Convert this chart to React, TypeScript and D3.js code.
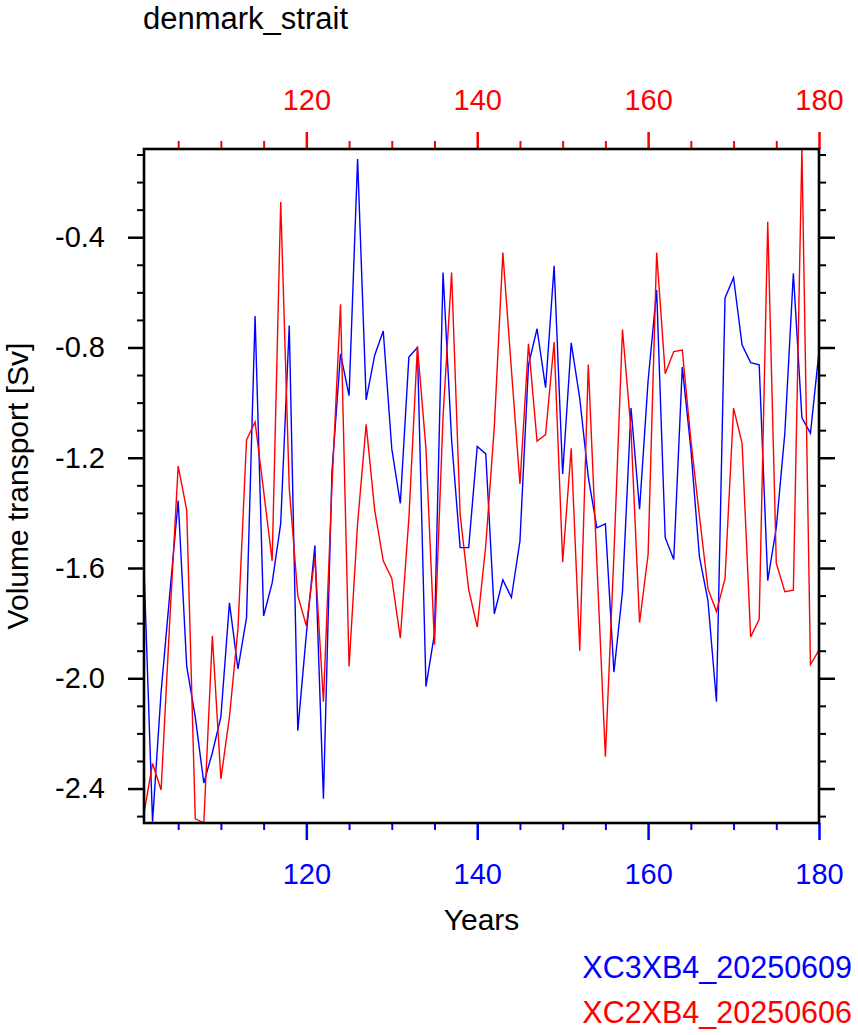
import React, { useRef, useEffect } from "react";
import * as d3 from "d3";

// years shared by both runs
const years = d3.range(101, 181);

// XC3XB4_20250609 (blue, bottom axis)
const blueValues = [
  -1.6, -2.52, -2.05, -1.7, -1.355, -1.957, -2.14, -2.38, -2.27, -2.14,
  -1.726, -1.966, -1.78, -0.686, -1.774, -1.654, -1.438, -0.72, -2.19, -1.84,
  -1.518, -2.437, -1.25, -0.823, -0.975, -0.116, -0.99, -0.828, -0.74, -1.167,
  -1.366, -0.835, -0.8, -2.03, -1.838, -0.528, -1.135, -1.526, -1.526, -1.159,
  -1.186, -1.766, -1.643, -1.707, -1.502, -0.863, -0.732, -0.946, -0.504, -1.259,
  -0.783, -0.985, -1.27, -1.454, -1.44, -1.978, -1.686, -1.02, -1.387, -0.92,
  -0.592, -1.49, -1.569, -0.871, -1.167, -1.558, -1.718, -2.085, -0.62, -0.547,
  -0.791, -0.855, -0.863, -1.646, -1.454, -1.111, -0.531, -1.055, -1.111, -0.815,
];

// XC2XB4_20250606 (red, top axis)
const redValues = [
  -2.49, -2.309, -2.405, -1.8, -1.23, -1.39, -2.51, -2.525, -1.846, -2.365,
  -2.14, -1.82, -1.135, -1.07, -1.32, -1.574, -0.272, -1.31, -1.7, -1.81,
  -1.56, -2.085, -1.3, -0.643, -1.957, -1.438, -1.079, -1.39, -1.574, -1.638,
  -1.854, -1.42, -0.796, -1.167, -1.878, -1.05, -0.528, -1.406, -1.678, -1.814,
  -1.518, -1.087, -0.456, -0.88, -1.295, -0.787, -1.14, -1.116, -0.78, -1.579,
  -1.166, -1.9, -0.862, -1.58, -2.285, -1.55, -0.735, -1.1, -1.798, -1.55,
  -0.456, -0.895, -0.815, -0.809, -1.135, -1.41, -1.675, -1.758, -1.638, -1.02,
  -1.148, -1.85, -1.786, -0.344, -1.582, -1.686, -1.68, -0.08, -1.95, -1.898,
];

const xMajorTicks = [120, 140, 160, 180];
const xMinorTicks = d3.range(105, 181, 5).filter((d) => d % 20 !== 0);
const yMajorTicks = [-0.4, -0.8, -1.2, -1.6, -2.0, -2.4];
const yMinorTicks = d3.range(-25, 0).map((d) => d / 10).filter((d) => Math.round(d * 10) % 4 !== 0);

const FONT = "'Liberation Sans', Arial, Helvetica, sans-serif";

const App = () => {
  const ref = useRef(null);

  useEffect(() => {
    const svg = d3.select(ref.current);
    svg.selectAll("*").remove();

    const left = 144,
      right = 819,
      top = 149,
      bottom = 823;

    const x = d3.scaleLinear().domain([101, 180]).range([left, right]);
    const all = blueValues.concat(redValues);
    const y = d3
      .scaleLinear()
      .domain([d3.min(all), d3.max(all)])
      .range([bottom, top]);

    const styleAxis = (g, color, width) => {
      g.select(".domain").remove();
      g.selectAll("line").attr("stroke", color).attr("stroke-width", width);
      g.selectAll("text")
        .attr("fill", color)
        .style("font-family", FONT)
        .style("font-size", "29px");
    };

    // bottom axis (blue)
    svg
      .append("g")
      .attr("transform", `translate(0,${bottom})`)
      .call(d3.axisBottom(x).tickValues(xMinorTicks).tickSize(7).tickFormat(() => ""))
      .call((g) => styleAxis(g, "#0000ff", 2));
    svg
      .append("g")
      .attr("transform", `translate(0,${bottom})`)
      .call(d3.axisBottom(x).tickValues(xMajorTicks).tickSize(17).tickPadding(23).tickFormat(d3.format("d")))
      .call((g) => styleAxis(g, "#0000ff", 2.5));

    // top axis (red)
    svg
      .append("g")
      .attr("transform", `translate(0,${top})`)
      .call(d3.axisTop(x).tickValues(xMinorTicks).tickSize(8).tickFormat(() => ""))
      .call((g) => styleAxis(g, "#ff0000", 2));
    svg
      .append("g")
      .attr("transform", `translate(0,${top})`)
      .call(d3.axisTop(x).tickValues(xMajorTicks).tickSize(17).tickPadding(22).tickFormat(d3.format("d")))
      .call((g) => styleAxis(g, "#ff0000", 2.5));

    // left / right axes
    svg
      .append("g")
      .attr("transform", `translate(${left},0)`)
      .call(d3.axisLeft(y).tickValues(yMinorTicks).tickSize(7).tickFormat(() => ""))
      .call((g) => styleAxis(g, "#000", 2));
    svg
      .append("g")
      .attr("transform", `translate(${left},0)`)
      .call(
        d3
          .axisLeft(y)
          .tickValues(yMajorTicks)
          .tickSize(16)
          .tickPadding(23)
          .tickFormat((d) => d.toFixed(1))
      )
      .call((g) => styleAxis(g, "#000", 2.5));
    svg
      .append("g")
      .attr("transform", `translate(${right},0)`)
      .call(d3.axisRight(y).tickValues(yMinorTicks).tickSize(7).tickFormat(() => ""))
      .call((g) => styleAxis(g, "#000", 2));
    svg
      .append("g")
      .attr("transform", `translate(${right},0)`)
      .call(d3.axisRight(y).tickValues(yMajorTicks).tickSize(16).tickFormat(() => ""))
      .call((g) => styleAxis(g, "#000", 2.5));

    // lines
    const line = d3
      .line()
      .x((d) => x(d[0]))
      .y((d) => y(d[1]));

    const plot = svg.append("g");
    plot
      .append("path")
      .datum(years.map((yr, i) => [yr, blueValues[i]]))
      .attr("d", line)
      .attr("fill", "none")
      .attr("stroke", "#0000ff")
      .attr("stroke-width", 1.4);
    plot
      .append("path")
      .datum(years.map((yr, i) => [yr, redValues[i]]))
      .attr("d", line)
      .attr("fill", "none")
      .attr("stroke", "#ff0000")
      .attr("stroke-width", 1.4);

    // frame
    svg
      .append("rect")
      .attr("x", left)
      .attr("y", top)
      .attr("width", right - left)
      .attr("height", bottom - top)
      .attr("fill", "none")
      .attr("stroke", "#000")
      .attr("stroke-width", 2.6);

    // title
    svg
      .append("text")
      .attr("x", 143)
      .attr("y", 29)
      .style("font-family", FONT)
      .style("font-size", "31px")
      .text("denmark_strait");

    // X axis label
    svg
      .append("text")
      .attr("text-anchor", "middle")
      .attr("x", (left + right) / 2)
      .attr("y", 930)
      .style("font-family", FONT)
      .style("font-size", "30px")
      .text("Years");

    // Y axis label
    svg
      .append("text")
      .attr("text-anchor", "middle")
      .attr("transform", `translate(28,${(top + bottom) / 2}) rotate(-90)`)
      .style("font-family", FONT)
      .style("font-size", "30px")
      .text("Volume transport [Sv]");

    // legend
    svg
      .append("text")
      .attr("text-anchor", "end")
      .attr("x", 852)
      .attr("y", 978)
      .attr("fill", "#0000ff")
      .style("font-family", FONT)
      .style("font-size", "30.5px")
      .text("XC3XB4_20250609");
    svg
      .append("text")
      .attr("text-anchor", "end")
      .attr("x", 852)
      .attr("y", 1023)
      .attr("fill", "#ff0000")
      .style("font-family", FONT)
      .style("font-size", "30.5px")
      .text("XC2XB4_20250606");
  }, []);

  return (
    <svg
      ref={ref}
      width={858}
      height={1035}
      style={{ position: "absolute", left: 0, top: 0, background: "#fff" }}
    />
  );
};

export default App;
